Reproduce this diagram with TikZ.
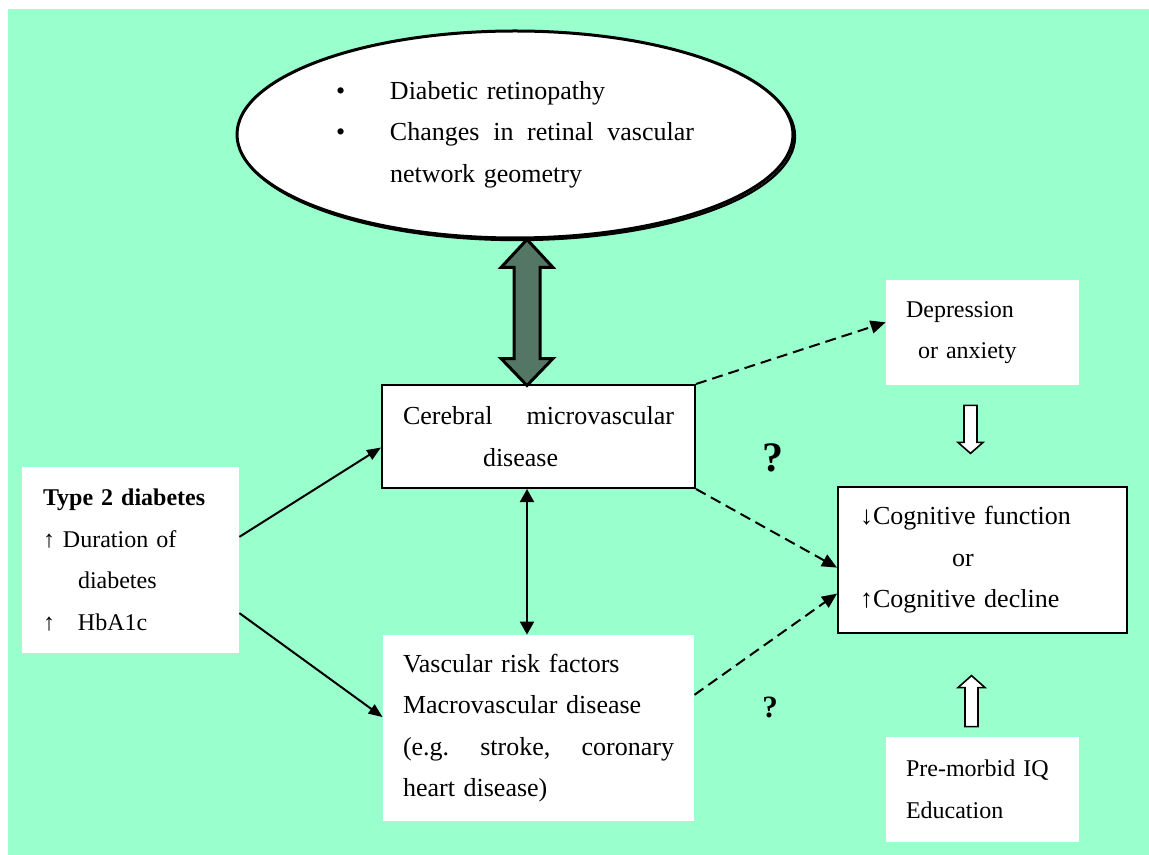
\documentclass[tikz,border=0pt]{standalone}
\usepackage{fontspec}
\setmainfont{Liberation Serif}
\usetikzlibrary{arrows.meta, positioning, shapes.geometric, shadows, calc}
\definecolor{mint}{HTML}{99FFCC}
\definecolor{slate}{RGB}{84,118,100}
\newcommand{\Spread}[2]{\makebox[#1][s]{#2}}

\begin{document}
\begin{tikzpicture}[
  x=0.5pt, y=-0.5pt,
  box/.style={fill=white, inner sep=0pt, align=left},
  framed/.style={box, draw, line width=1pt},
  bigfont/.style={font=\fontsize{13}{20.75}\selectfont},
  smallfont/.style={font=\fontsize{12}{20.75}\selectfont},
  arrow/.style={-{Triangle[length=7pt, width=5.5pt]}, line width=1pt},
  link/.style={{Triangle[length=6.5pt, width=7pt]}-{Triangle[length=6.5pt, width=7pt]}, line width=1pt},
  maybe/.style={-{Triangle[length=7.5pt, width=6.5pt]}, line width=1pt, dash pattern=on 5.5pt off 3pt},
  block/.style={draw, fill=white, line width=0.8pt},
]
  \useasboundingbox (0,0) rectangle (1149,855);
  \fill[mint] (8,9) rectangle (1149,855);

  % Nodes
  \node (RET) [ellipse, draw, fill=white, line width=1.5pt, inner sep=0pt,
    minimum width=278pt, minimum height=103.5pt, text width=179pt,
    align=left, bigfont,
    copy shadow={shadow xshift=1pt, shadow yshift=-1pt, draw=black,
      fill=white, line width=1.2pt}] at (515,134.5)
    {\makebox[27pt][l]{\textbullet}Diabetic retinopathy\\
     \makebox[27pt][l]{\textbullet}\Spread{152pt}{Changes\hfill in\hfill retinal\hfill vascular}\\
     \hspace*{27pt}network geometry};
  \node (CMD) [framed, bigfont, minimum width=156.5pt, minimum height=51.5pt,
    text width=135.5pt] at (538.5,436.5)
    {\Spread{135.5pt}{Cerebral\hfill microvascular}\\ \hspace*{40pt}disease};
  \node (VRF) [box, bigfont, minimum width=155.5pt, minimum height=93pt,
    text width=135.5pt] at (538.5,728)
    {Vascular risk factors\\ Macrovascular disease\\
     \Spread{135.5pt}{(e.g.\hfill stroke,\hfill coronary}\\ heart disease)};
  \node (T2D) [box, smallfont, minimum width=108.5pt, minimum height=93pt,
    text width=87.5pt] at (130.5,560)
    {\textbf{Type 2 diabetes}\\ ↑ Duration of\\ \hspace*{17.5pt}diabetes\\
     \makebox[17.5pt][l]{↑}HbA1c};
  \node (DEP) [box, smallfont, minimum width=96.5pt, minimum height=52.5pt,
    text width=76.5pt] at (982.5,332.5) {Depression\\ \hspace*{6pt}or anxiety};
  \node (COG) [framed, bigfont, minimum width=144.5pt, minimum height=73pt,
    text width=122.5pt] at (982.5,560)
    {↓Cognitive function\\ \hspace*{46pt}or\\ ↑Cognitive decline};
  \node (IQ) [box, smallfont, minimum width=96.5pt, minimum height=52.5pt,
    text width=76.5pt] at (982.5,789.5) {Pre-morbid IQ\\ Education};
  \node (Q1) [inner sep=0pt, font=\fontsize{21}{25}\selectfont\bfseries]
    at (772.5,457.5) {?};
  \node (Q2) [inner sep=0pt, font=\fontsize{15.5}{18}\selectfont\bfseries]
    at (770,707) {?};

  % Retina <-> cerebral (block arrow)
  \coordinate (spine) at (527,0);
  \draw[line width=1.5pt, fill=slate] (RET.south -| spine) -- ++(26,28)
    -- ++(-13,0) -- ++(0,91) -- ++(13,0) -- ++(-26,27) -- ++(-26,-27)
    -- ++(13,0) -- ++(0,-91) -- ++(-13,0) -- cycle;

  % Cerebral <-> vascular
  \draw[link] (CMD.south -| spine) -- (VRF.north -| spine);

  % Diabetes to both
  \draw[arrow] (T2D.12.5) -- (CMD.184);
  \draw[arrow] (T2D.334.4) -- (VRF.176);

  % Uncertain paths
  \draw[maybe] (CMD.north east) -- (DEP.174);
  \draw[maybe] (CMD.south east) -- (COG.183.2);
  \draw[maybe] (VRF.12) -- (COG.193.6);

  % Open arrows into cognition
  \draw[block] ($(DEP.south)+(-18.5,20)$) -- ++(13,0) -- ++(0,37)
    -- ++(6,0) -- ++(-12.5,11) -- ++(-12.5,-11) -- ++(6,0) -- cycle;
  \draw[block] ($(IQ.north)+(-17.5,-10)$) -- ++(13,0) -- ++(0,-39)
    -- ++(7,0) -- ++(-13.5,-12) -- ++(-13.5,12) -- ++(7,0) -- cycle;
\end{tikzpicture}
\end{document}
